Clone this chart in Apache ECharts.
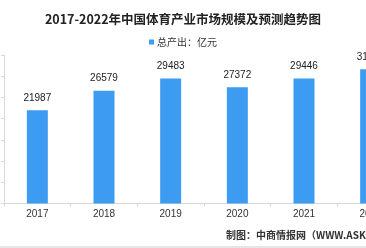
<!DOCTYPE html>
<html>
<head>
<meta charset="utf-8">
<script src="https://cdn.jsdelivr.net/npm/echarts@6/dist/echarts.min.js"></script>
<style>
  html, body { margin: 0; padding: 0; background: #fff; overflow: hidden; }
  #main { width: 366px; height: 248px; }
</style>
</head>
<body>
<div id="main"></div>
<script>
// 数据
var years = ['2017', '2018', '2019', '2020', '2021', '2022'];
var output = [21987, 26579, 29483, 27372, 29446, 31650]; // 总产出（亿元），2022为预测
var seriesName = '总产出：亿元';

var chart = echarts.init(document.getElementById('main'));

var option = {
  animation: false,
  title: {
    text: '2017-2022年中国体育产业市场规模及预测趋势图',
    left: 'center',
    top: 8,
    textStyle: {
      fontFamily: 'Noto Sans CJK SC',
      fontSize: 12.5,
      fontWeight: 'bold',
      color: '#222'
    }
  },
  legend: {
    top: 32,
    left: 'center',
    itemWidth: 5,
    itemHeight: 5,
    itemGap: 3,
    icon: 'rect',
    textStyle: {
      fontFamily: 'Noto Sans CJK SC',
      fontSize: 10,
      color: '#333',
      padding: [0, 0, 0, -2]
    },
    data: [seriesName]
  },
  grid: {
    left: 4,
    right: -38,   // 比画布宽，右侧被裁切
    top: 55,
    bottom: 44.5,
    containLabel: false,
    outerBoundsMode: 'none'
  },
  xAxis: {
    type: 'category',
    data: years,
    axisLine: { lineStyle: { color: '#d8d8d8' } },
    axisTick: { show: true, length: 3, lineStyle: { color: '#d8d8d8' } },
    axisLabel: {
      margin: 6,
      fontFamily: 'Liberation Sans',
      fontSize: 10,
      color: '#333'
    }
  },
  yAxis: {
    type: 'value',
    min: 0,
    max: 35000,
    interval: 5000,
    axisLine: { show: true, lineStyle: { color: '#d8d8d8' } },
    axisTick: { show: true, length: 3, lineStyle: { color: '#d8d8d8' } },
    axisLabel: { show: false },
    splitLine: { show: false }
  },
  series: [
    {
      name: seriesName,
      type: 'bar',
      barWidth: 21,
      data: output,
      itemStyle: { color: '#3d9bf2' },
      label: {
        show: true,
        position: 'top',
        distance: 7,
        fontFamily: 'Liberation Sans',
        fontSize: 10,
        color: '#222'
      }
    }
  ],
  graphic: [
    {
      type: 'text',
      left: 226,
      top: 230,
      style: {
        text: '制图：中商情报网（WWW.ASKCI.COM）',
        font: 'bold 10px "Noto Sans CJK SC"',
        fill: '#333'
      }
    },
    {
      type: 'rect',
      shape: { x: 0, y: 246, width: 366, height: 2 },
      style: { fill: '#e6e6e6' }
    }
  ]
};

chart.setOption(option);
</script>
</body>
</html>
